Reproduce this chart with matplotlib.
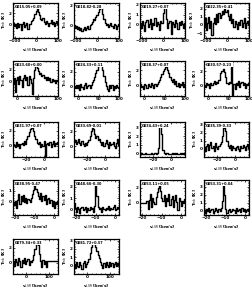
"""Grid of line spectra (T_mb vs v_LSR) for 18 sources."""

import numpy as np
import matplotlib
matplotlib.use("Agg")
import matplotlib.pyplot as plt
from matplotlib.ticker import AutoMinorLocator

# source names (top-left of each panel)
names = ["G015.05+0.09", "G018.82-0.28", "G019.27+0.07", "G022.35+0.41",
         "G023.60+0.00", "G024.33+0.11", "G028.37+0.07", "G030.57-0.23",
         "G031.97+0.07", "G033.69-0.01", "G034.43+0.24", "G035.39-0.33",
         "G038.95-0.47", "G048.66-0.30", "G053.11+0.05", "G053.31+0.04",
         "G079.34+0.33", "G081.72+0.57"]

# brightness temperatures [K], 40 channels each
T = [
    [0.3, -0.2, 0.1, -0.5, 0.4, -0.3, 0.2, -0.8, 0.1, 0.5, -0.4, 0.0, 0.3, -0.6, 0.2, 0.1, 0.6, 0.9, 1.2, 1.8,
     2.4, 2.8, 2.1, 1.6, 1.0, 0.8, 1.1, 0.5, 0.2, 0.7, 0.3, -0.2, 0.4, 0.9, 0.1, 0.5, -0.1, 0.3, 0.6, 0.2],
    [0.1, -0.2, 0.0, -0.3, -0.1, -0.4, -0.2, -0.5, -0.3, -0.1, -0.4, -0.2, 0.0, -0.3, 0.1, 0.2, 0.4, 0.6, 0.5, 0.8,
     1.0, 1.3, 1.6, 2.0, 1.7, 1.1, 0.6, 0.3, 0.1, 0.2, -0.1, 0.1, 0.3, 0.0, -0.2, 0.2, 0.1, -0.3, 0.0, 0.2],
    [0.2, -0.3, 0.4, 0.0, -0.6, 0.3, 0.5, -0.2, 0.1, 0.6, -0.4, 0.2, 0.0, 0.7, -0.1, 0.3, 0.1, -0.5, 0.4, 0.2,
     1.2, 2.0, 1.9, 0.6, -0.3, 0.2, 0.4, -0.9, 0.3, 0.1, -0.2, 0.5, 0.2, -0.4, 0.3, 0.0, 0.4, 0.1, -0.3, 0.2],
    [-0.3, 0.8, -0.6, 0.2, 1.0, -0.4, 0.5, -1.2, 0.3, 0.9, 0.1, 1.3, 0.4, 1.5, 0.8, 1.2, 1.7, 1.4, 2.0, 1.6,
     1.9, 1.1, 0.6, 1.3, 0.2, 0.7, -0.3, 0.5, 0.1, -0.5, 0.4, 0.0, 0.6, -0.2, 0.3, 0.8, -0.4, 0.2, 0.5, 0.0],
    [-0.5, 0.6, -1.8, 0.3, 0.8, -0.4, 1.0, 0.2, -0.9, 0.5, 1.1, 0.3, 0.7, -0.6, 0.9, 0.4, -0.2, -2.2, 0.5, 2.0,
     2.6, 2.3, 1.7, 1.2, 1.5, 0.9, 1.1, 0.6, 0.8, 0.3, 0.7, 0.2, 0.5, -0.1, 0.4, 0.0, 0.3, -0.3, 0.2, 0.1],
    [0.1, -0.2, 0.3, -0.1, 0.2, -0.4, 0.4, 0.0, -0.3, 0.2, 0.5, -0.1, 0.1, 0.3, -0.2, 0.2, 0.6, 0.9, 1.3, 1.8,
     2.2, 2.7, 3.1, 3.3, 2.9, 2.2, 1.4, 0.7, 0.1, -0.3, -0.5, 0.2, -0.2, 0.3, -0.4, 0.1, -0.1, 0.2, 0.0, -0.2],
    [0.2, -0.1, 0.0, -0.4, 0.3, 0.1, -0.3, 0.2, 0.0, -0.2, 0.4, 0.1, -0.3, 0.3, 0.0, 0.2, 0.5, 0.8, 1.2, 1.5,
     1.9, 2.2, 2.6, 2.4, 2.1, 1.6, 1.2, 0.8, 0.5, 0.9, 0.3, 0.6, 0.0, 0.4, -0.2, 0.3, 0.1, 0.5, -0.1, 0.2],
    [0.1, -0.2, 0.3, 0.0, 0.2, -0.3, 0.4, 0.1, 0.3, 0.6, 0.2, 0.5, 0.3, 0.8, 1.8, 2.1, 2.0, 2.3, 1.9, 1.2,
     0.4, 0.2, 0.5, 0.3, 3.4, -1.4, 0.2, -0.5, 0.4, 0.1, 0.6, -0.2, 0.3, 0.5, 0.0, 0.4, -0.3, 0.2, 0.1, 0.3],
    [0.3, 0.1, -0.2, 0.5, 0.0, 0.3, -0.3, 0.2, 0.4, 0.1, 0.6, 0.3, 0.9, 1.3, 1.8, 2.2, 2.6, 2.4, 2.0, 1.3,
     0.9, 0.4, 0.2, 0.5, -0.1, 0.3, 0.0, 0.6, -1.4, 0.2, 0.4, 0.1, 0.5, -0.2, 0.3, 0.6, 0.0, 0.4, 0.2, 0.5],
    [0.5, 0.8, 0.3, 0.6, 1.0, 0.4, 0.2, 0.7, 0.3, 0.0, 0.4, 0.2, 0.5, 0.9, 1.4, 2.0, 2.8, 2.3, 1.6, 1.1,
     1.4, 0.8, 1.0, 0.5, 0.2, 0.6, 0.0, 0.4, 0.9, 0.3, -0.2, 0.5, 0.1, 0.3, 0.6, 0.0, -0.3, 0.4, 1.0, 0.2],
    [0.0, 0.05, 0.0, -0.05, 0.0, 0.05, 0.0, 0.0, -0.05, 0.0, 0.05, 0.0, 0.0, 0.05, 0.0, 0.1, 0.6, 3.4, 3.5, 2.2,
     0.4, 0.1, 0.0, 0.05, 0.1, 0.0, -0.05, 0.0, 0.05, 0.0, 0.1, 0.0, 0.05, 0.0, -0.05, 0.05, 0.0, 0.1, 0.0, 0.05],
    [0.2, -0.3, 0.4, 0.6, -0.2, 0.5, 0.8, 0.1, 0.4, -0.3, 0.7, 0.2, 0.0, 0.4, 0.6, 0.9, 1.6, 2.6, 3.1, 2.2,
     1.0, 0.3, 0.1, 0.5, -0.2, 0.3, 0.1, -0.1, 0.2, 0.4, 0.0, -0.3, 0.3, 0.1, 0.5, 0.2, -0.2, 0.3, 0.6, 0.1],
    [0.0, -0.3, 0.1, -0.6, 0.2, 0.7, -0.2, 0.5, 0.1, 0.6, 0.0, 0.4, -0.1, 0.3, 0.2, 0.0, 0.4, 0.7, 1.1, 1.7,
     1.2, 0.9, 0.5, 0.3, 0.8, 0.1, 0.5, 0.2, 0.6, -0.2, 0.3, 0.4, -0.1, 0.2, -0.4, 0.1, -0.6, 0.0, -0.2, 0.1],
    [0.6, 0.1, -0.2, 0.2, 0.0, -0.3, 0.1, 0.2, -0.1, 0.0, 0.2, -0.2, 0.1, -0.1, 0.2, 0.0, 0.1, -0.2, 0.3, 2.6,
     1.2, 0.2, 0.0, 0.1, -0.2, 0.2, 0.0, -0.1, 0.1, 0.0, 0.3, -0.1, 0.1, 0.0, 0.2, 0.4, -0.1, 0.0, 0.2, 0.1],
    [0.0, 0.0, 0.0, 0.0, 0.0, 0.0, 0.3, -0.8, 0.4, 1.2, -0.5, 0.6, 0.1, -0.2, 0.8, 1.4, 1.9, 2.6, 1.5, 0.6,
     0.3, 1.0, -0.4, 0.7, 0.2, 1.1, -0.3, 0.5, 0.9, -0.6, 0.4, 1.0, 0.1, -0.9, 0.6, 0.2, -0.4, 0.3, 0.0, 0.5],
    [0.1, -0.2, 0.2, 0.0, 0.3, -0.1, 0.1, 0.2, -0.2, 0.0, 0.3, 0.1, -0.1, 0.2, 0.0, 0.3, 1.2, 3.6, 2.0, 0.2,
     -0.2, 0.1, 0.2, -0.1, 0.0, 0.2, 0.1, -0.2, 0.3, 0.0, 0.1, 0.2, -0.1, 0.3, 0.0, 0.2, -0.1, 0.1, 0.2, 0.0],
    [0.3, -0.4, 0.5, 0.1, -0.3, 0.6, 0.2, -0.5, 0.4, 0.0, 0.7, -0.2, 0.3, 0.5, -0.3, 0.2, 0.1, 0.4, 1.0, 1.8,
     2.5, 2.8, 2.4, 1.2, 0.3, -0.6, 0.4, -0.2, 0.3, -0.5, 0.2, 0.2, 0.2, 0.2, 0.2, 0.2, 0.2, 0.2, 0.2, 0.2],
    [0.2, -0.3, 0.4, 0.0, -0.2, 0.5, 0.1, -0.4, 0.3, 0.6, -0.1, 0.2, 0.4, 0.8, 1.5, 2.2, 2.8, 3.0, 2.6, 2.2,
     1.8, 1.3, 0.9, 0.5, 0.1, -0.3, 0.3, -0.2, 0.4, 0.1, -0.1, 0.5, 0.0, 0.3, -0.2, 0.2, 0.4, 0.0, 0.3, 0.1],
]

# velocity range and ticks per row
row_vrange = [(-110, 100), (-10, 100), (-35, 15), (-21, 2), (-60, 140)]
row_xticks = [[-100, 0, 100], [0, 50, 100], [-20, 0], [-20, -10, 0], [0, 100]]

# y limits / ticks per panel
ylims = [(-2.2, 3.7), (-1.2, 2.2), (-1.3, 2.2), (-1.6, 2.7),
         (-2.5, 3.5), (-1.2, 3.4), (-1.3, 3.2), (-1.5, 3.5),
         (-1.5, 3.2), (-1.5, 3.3), (-0.4, 3.6), (-1.0, 3.3),
         (-1.2, 2.0), (-0.5, 2.6), (-1.6, 3.0), (-0.5, 3.8),
         (-1.5, 3.2), (-1.0, 3.2)]
yticks = [[0, 2], [0, 2], [0, 1, 2], [-1, 0, 1, 2],
          [0, 2], [0, 2], [0, 2], [0, 2],
          [0, 2], [0, 2], [0, 1, 2, 3], [0, 1, 2, 3],
          [0, 1], [0, 1, 2], [0, 2], [0, 1, 2, 3],
          [0, 2], [0, 1, 2, 3]]

W, H = 253, 291
col_left = [13, 74, 140, 204]
row_top = [3, 61, 122, 180, 239]
pw, ph = 45, 35

fig = plt.figure(figsize=(W / 100, H / 100), dpi=100)

for i, temp in enumerate(T):
    r, c = divmod(i, 4)
    ax = fig.add_axes([col_left[c] / W, 1 - (row_top[r] + ph) / H, pw / W, ph / H])
    vmin, vmax = row_vrange[r]
    v = np.linspace(vmin, vmax, len(temp))
    ax.step(v, temp, where='mid', color='black', lw=1.0)
    ax.set_xlim(vmin, vmax)
    ax.set_ylim(*ylims[i])
    ax.set_xticks(row_xticks[r])
    ax.set_yticks(yticks[i])
    ax.xaxis.set_minor_locator(AutoMinorLocator())
    ax.yaxis.set_minor_locator(AutoMinorLocator())
    ax.tick_params(which='both', direction='in', top=True, right=True,
                   labelsize=3, width=0.5, pad=1)
    ax.tick_params(which='major', length=1.5)
    ax.tick_params(which='minor', length=0.8)
    for lab in ax.get_xticklabels() + ax.get_yticklabels():
        lab.set_fontweight('bold')
    for s in ax.spines.values():
        s.set_linewidth(0.9)
    ax.set_xlabel(r'$\mathbf{v_{\rm LSR}}$ [km/s]', fontsize=3, labelpad=2.5,
                  fontweight='bold')
    ax.set_ylabel(r'$\mathbf{T_{\rm mb}}$ [K]', fontsize=3, labelpad=0.5,
                  fontweight='bold')
    ax.text(0.05, 0.95, names[i], transform=ax.transAxes, fontsize=2.5,
            fontweight='bold', ha='left', va='top',
            bbox=dict(facecolor='white', edgecolor='none', pad=0.2))

plt.savefig('out.png', dpi=100)
